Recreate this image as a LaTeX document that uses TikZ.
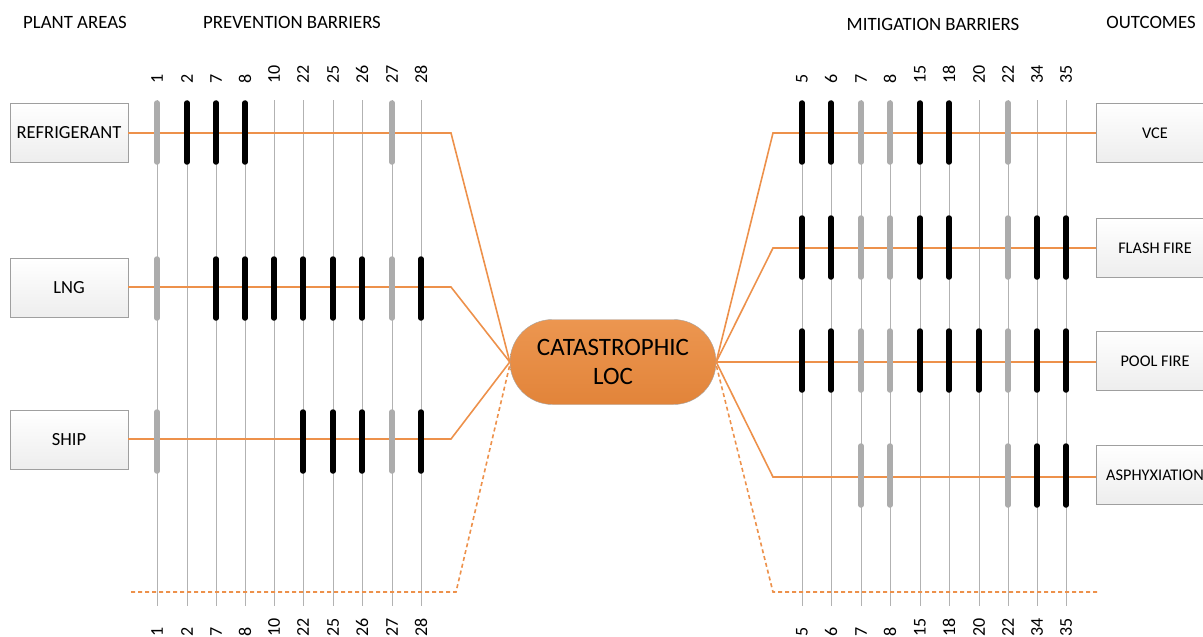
\documentclass[tikz,border=0pt]{standalone}
\usepackage{fontspec}
\setmainfont{Carlito}
\usetikzlibrary{shapes.misc}
\definecolor{org}{RGB}{237,145,75}
\definecolor{loctop}{RGB}{236,150,80}
\definecolor{locbot}{RGB}{226,132,58}
\begin{document}
\begin{tikzpicture}[x=1pt,y=-1pt,
 areabox/.style={draw=gray!75, top color=white, bottom color=gray!14, minimum width=118, minimum height=59, inner sep=0, font=\fontsize{18.5}{21}\selectfont},
 outbox/.style={areabox, font=\fontsize{16.3}{19}\selectfont},
 hdr/.style={font=\fontsize{18.8}{22}\selectfont, inner sep=0},
 num/.style={rotate=90, anchor=west, inner sep=0, font=\fontsize{18}{20}\selectfont},
 gridline/.style={draw=gray!60, line width=0.8},
 link/.style={draw=org, line width=1.6},
 dlink/.style={draw=org, line width=1.6, dash pattern=on 4 off 3},
 bbar/.style={line width=5.5, line cap=round, draw=black},
 gbar/.style={line width=5.5, line cap=round, draw=gray!65}
]
\useasboundingbox (0,0) rectangle (1203,637);

% headers
\node[hdr] (h1) at (75,22) {PLANT AREAS};
\node[hdr] (h2) at (292,22) {PREVENTION BARRIERS};
\node[hdr] (h3) at (933,24) {MITIGATION BARRIERS};
\node[hdr] (h4) at (1151,22) {OUTCOMES};

% left barrier columns
\foreach \n/\x in {1/157,2/187,7/216,8/245,10/274,22/303,25/333,26/362,27/392,28/421}{
  \draw[gridline] (\x,100) -- (\x,606);
  \node[num] (lt\n) at (\x,84) {\n};
  \node[num] (lb\n) at (\x,637) {\n};
}
% right barrier columns
\foreach \n/\x in {5/802,6/831,7/861,8/890,15/920,18/949,20/979,22/1008,34/1037,35/1066}{
  \draw[gridline] (\x,100) -- (\x,606);
  \node[num] (rt\n) at (\x,84) {\n};
  \node[num] (rb\n) at (\x,637) {\n};
}

% central node
\node[rounded rectangle, draw=gray!70, top color=loctop, bottom color=locbot,
      minimum width=206, minimum height=85, inner sep=0, align=center,
      font=\fontsize{25}{29}\selectfont] (loc) at (613,362) {CATASTROPHIC\\LOC};

% boxes
\node[areabox] (ref) at (69,133) {REFRIGERANT};
\node[areabox] (lng) at (69,288) {LNG};
\node[areabox] (ship) at (69,440) {SHIP};
\node[outbox] (vce) at (1155,133) {VCE};
\node[outbox] (ff) at (1155,248) {FLASH FIRE};
\node[outbox] (pf) at (1155,361) {POOL FIRE};
\node[outbox, text width=98, align=center] (asp) at (1155,475) {ASPHYXIATION};

% bend coordinates
\coordinate (b1) at (451,133);
\coordinate (b2) at (451,287);
\coordinate (b3) at (451,439);
\coordinate (b4) at (456,592);
\coordinate (d4) at (131,592);
\coordinate (c1) at (773,133);
\coordinate (c2) at (773,248);
\coordinate (c4) at (773,477);
\coordinate (c5) at (773,592);
\coordinate (e5) at (1097,592);

% links
\draw[link] (ref.east |- b1) -- (b1) -- (loc.west);
\draw[link] (lng.east |- b2) -- (b2) -- (loc.west);
\draw[link] (ship.east |- b3) -- (b3) -- (loc.west);
\draw[dlink] (d4) -- (b4) -- ([yshift=-3]loc.west);
\draw[link] (vce.west |- c1) -- (c1) -- (loc.east);
\draw[link] (ff.west |- c2) -- (c2) -- (loc.east);
\draw[link] (pf.west |- loc.east) -- (loc.east);
\draw[link] (asp.west |- c4) -- (c4) -- (loc.east);
\draw[dlink] (e5) -- (c5) -- ([yshift=-3]loc.east);

% left bars
\foreach \x in {157,392}{ \draw[gbar] (\x,103) -- (\x,162); }
\foreach \x in {187,216,245}{ \draw[bbar] (\x,103) -- (\x,162); }
\foreach \x in {157,392}{ \draw[gbar] (\x,259) -- (\x,318); }
\foreach \x in {216,245,274,303,333,362,421}{ \draw[bbar] (\x,259) -- (\x,318); }
\foreach \x in {157,392}{ \draw[gbar] (\x,412) -- (\x,471); }
\foreach \x in {303,333,362,421}{ \draw[bbar] (\x,412) -- (\x,471); }

% right bars
\foreach \x in {861,890,1008}{ \draw[gbar] (\x,103) -- (\x,162); }
\foreach \x in {802,831,920,949}{ \draw[bbar] (\x,103) -- (\x,162); }
\foreach \x in {861,890,1008}{ \draw[gbar] (\x,218) -- (\x,277); }
\foreach \x in {802,831,920,949,1037,1066}{ \draw[bbar] (\x,218) -- (\x,277); }
\foreach \x in {861,890,1008}{ \draw[gbar] (\x,331) -- (\x,390); }
\foreach \x in {802,831,920,949,979,1037,1066}{ \draw[bbar] (\x,331) -- (\x,390); }
\foreach \x in {861,890,1008}{ \draw[gbar] (\x,446) -- (\x,505); }
\foreach \x in {1037,1066}{ \draw[bbar] (\x,446) -- (\x,505); }
\end{tikzpicture}
\end{document}
